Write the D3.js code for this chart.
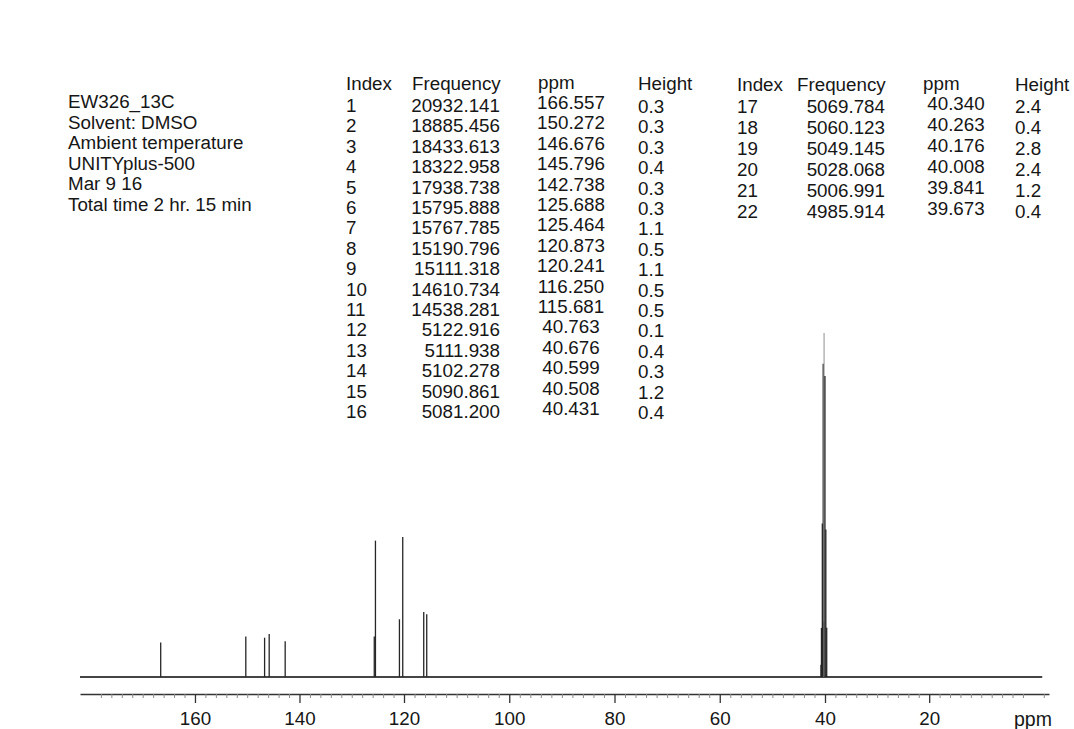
<!DOCTYPE html>
<html>
<head>
<meta charset="utf-8">
<script src="https://cdn.jsdelivr.net/npm/d3@7"></script>
<style>
  html, body { margin: 0; padding: 0; background: #ffffff; }
  svg { display: block; }
  text { font-family: "Liberation Sans", Arial, sans-serif; fill: #161616; }
</style>
</head>
<body>
<svg id="chart" width="1074" height="729"></svg>
<script>
// ---------------- data ----------------
const headerLines = [
  "EW326_13C",
  "Solvent: DMSO",
  "Ambient temperature",
  "UNITYplus-500",
  "Mar 9 16",
  "Total time 2 hr. 15 min"
];
const tableColumns = ["Index", "Frequency", "ppm", "Height"];
const peakIndex = [1,2,3,4,5,6,7,8,9,10,11,12,13,14,15,16,17,18,19,20,21,22];
const peakFrequency = ["20932.141","18885.456","18433.613","18322.958","17938.738","15795.888",
  "15767.785","15190.796","15111.318","14610.734","14538.281","5122.916","5111.938","5102.278",
  "5090.861","5081.200","5069.784","5060.123","5049.145","5028.068","5006.991","4985.914"];
const peakPpm = [166.557,150.272,146.676,145.796,142.738,125.688,125.464,120.873,120.241,
  116.250,115.681,40.763,40.676,40.599,40.508,40.431,40.340,40.263,40.176,40.008,39.841,39.673];
const peakHeight = [0.3,0.3,0.3,0.4,0.3,0.3,1.1,0.5,1.1,0.5,0.5,0.1,0.4,0.3,1.2,0.4,2.4,0.4,2.8,2.4,1.2,0.4];
// heights of the lines as drawn in the plot (same units as Height)
const drawnIntensity = [0.28,0.33,0.32,0.35,0.29,0.33,1.11,0.47,1.14,0.53,0.51,
  0.1,0.4,0.3,1.25,0.45,2.55,0.45,2.8,2.45,1.2,0.4];
const majorTicks = [160,140,120,100,80,60,40,20];
const axisDomain = [182, 120, 40, -3];
const traceRange = [182, -1.7];
const axisUnit = "ppm";

// ---------------- layout ----------------
const svg = d3.select("#chart");
const FS = 18.8;

const x = d3.scaleLinear().domain(axisDomain).range([80, 404, 825, 1049]);
const y = d3.scaleLinear().domain([0, 2.8]).range([677, 333]);

// header block
svg.append("g").selectAll("text").data(headerLines).join("text")
  .attr("x", 68)
  .attr("y", (d, i) => 108 + i * 20.6)
  .style("font-size", FS + "px")
  .text(d => d);

// peak table (two blocks)
function drawTable(rows, base, step, colX, colAnchor, colDy) {
  const g = svg.append("g");
  tableColumns.forEach((c, j) => {
    const hx = j === 2 ? colX[j] - 33 : (j === 1 ? colX[j] - 88 : colX[j]);
    g.append("text").attr("x", hx).attr("y", base - 22 + colDy[j] * 0.3)
      .style("font-size", FS + "px").text(c);
  });
  rows.forEach((r, i) => {
    const vals = [String(peakIndex[r]), peakFrequency[r], peakPpm[r].toFixed(3), peakHeight[r].toFixed(1)];
    vals.forEach((v, j) => {
      g.append("text").attr("x", colX[j]).attr("y", base + i * step + colDy[j])
        .attr("text-anchor", colAnchor[j])
        .style("font-size", FS + "px").text(v);
    });
  });
}
const leftRows = d3.range(0, 16);
const rightRows = d3.range(16, 22);
drawTable(leftRows, 112, 20.4, [346, 500, 571, 638], ["start","end","middle","start"], [0, 0, -3, 1]);
drawTable(rightRows, 113, 21, [737, 885, 956, 1015], ["start","end","middle","start"], [0, 0, -3, 0]);

// spectrum baseline
const trace = svg.append("g");
trace.append("path")
  .datum(traceRange)
  .attr("d", d3.line().x(d => x(d)).y(() => y(0)))
  .attr("stroke", "#454545").attr("stroke-width", 1.9).attr("fill", "none");

// peaks
trace.selectAll("line.peak").data(peakPpm.map((p, i) => ({p, h: drawnIntensity[i]})))
  .join("line").attr("class", "peak")
  .attr("x1", d => x(d.p)).attr("x2", d => x(d.p))
  .attr("y1", y(0)).attr("y2", d => y(d.h))
  .attr("stroke", d => d.h > 2.7 ? "#9a9a9a" : "#262626")
  .attr("stroke-width", d => d.h > 2.7 ? 1.1 : 1.3);

// axis
const axisY = 694;
const minorVals = d3.range(180, -3, -2).filter(v => v % 20 !== 0);
const minorAxis = d3.axisBottom(x).tickValues(minorVals).tickSize(4).tickSizeOuter(0).tickFormat("");
const gMinor = svg.append("g").attr("transform", `translate(0,${axisY})`).call(minorAxis);
gMinor.selectAll(".tick line").attr("stroke", "#8a8a8a").attr("stroke-width", 1);
gMinor.select(".domain").attr("stroke", "#333").attr("stroke-width", 1.4);

const majorAxis = d3.axisBottom(x).tickValues(majorTicks).tickSize(9).tickSizeOuter(0)
  .tickPadding(9).tickFormat(d3.format("d"));
const gMajor = svg.append("g").attr("transform", `translate(0,${axisY})`).call(majorAxis);
gMajor.select(".domain").remove();
gMajor.selectAll(".tick line").attr("stroke", "#333").attr("stroke-width", 1.3);
gMajor.selectAll(".tick text")
  .style("font-size", FS + "px")
  .style("font-family", '"Liberation Sans", Arial, sans-serif')
  .attr("fill", "#161616");

svg.append("text").attr("x", 1014).attr("y", 726)
  .style("font-size", "19.5px").text(axisUnit);
</script>
</body>
</html>
